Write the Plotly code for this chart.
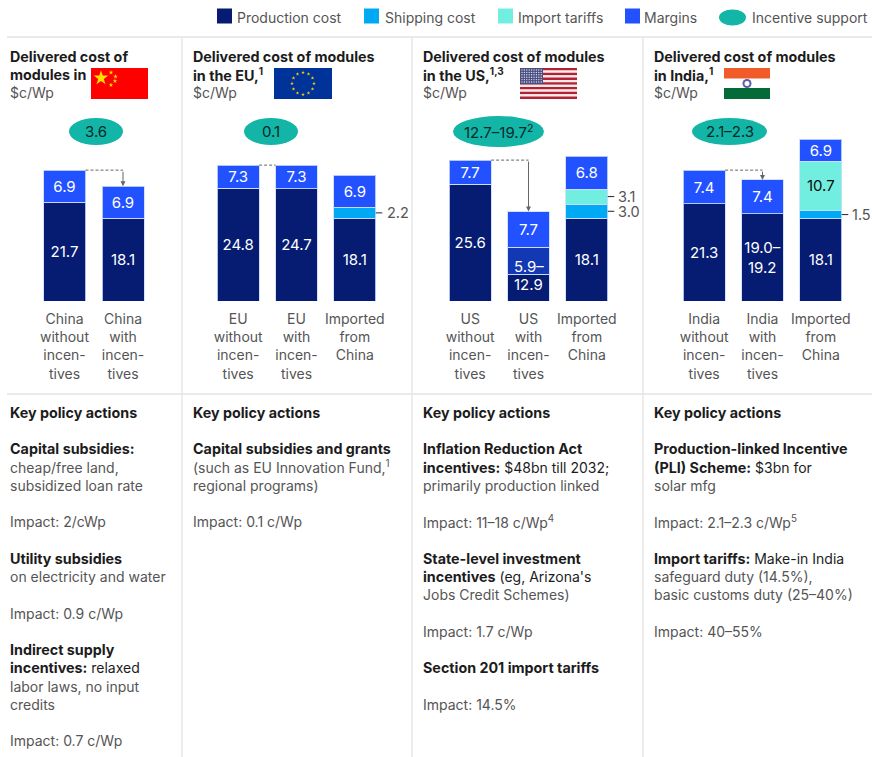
import plotly.graph_objects as go

# ---------- data ----------
china_cats = ["China<br>without<br>incen-<br>tives", "China<br>with<br>incen-<br>tives"]
eu_cats = ["EU<br>without<br>incen-<br>tives", "EU<br>with<br>incen-<br>tives", "Imported<br>from<br>China"]
us_cats = ["US<br>without<br>incen-<br>tives", "US<br>with<br>incen-<br>tives", "Imported<br>from<br>China"]
india_cats = ["India<br>without<br>incen-<br>tives", "India<br>with<br>incen-<br>tives", "Imported<br>from<br>China"]

# heights as drawn in the picture (the source does not draw every segment to scale)
china_production = [21.7, 18.1]
china_margins = [7.0, 7.05]
eu_production = [24.7, 24.6, 18.1]
eu_shipping = [0, 0, 2.45]
eu_margins = [5.1, 5.2, 7.0]
us_production = [25.6, 5.85, 18.1]
us_range = [0, 5.95, 0]
us_shipping = [0, 0, 3.15]
us_tariffs = [0, 0, 3.3]
us_margins = [5.3, 7.8, 7.15]
india_production = [21.3, 19.1, 18.1]
india_shipping = [0, 0, 1.7]
india_tariffs = [0, 0, 10.9]
india_margins = [7.4, 7.45, 4.75]

# printed labels
china_production_lbl = ["21.7", "18.1"]
china_margins_lbl = ["6.9", "6.9"]
eu_production_lbl = ["24.8", "24.7", "18.1"]
eu_margins_lbl = ["7.3", "7.3", "6.9"]
us_production_lbl = ["25.6", None, "18.1"]
us_with_base_lbl = "12.9"
us_with_range_lbl = "5.9–"
us_margins_lbl = ["7.7", "7.7", "6.8"]
india_production_lbl = ["21.3", "19.0–<br>19.2", "18.1"]
india_tariffs_lbl = [None, None, "10.7"]
india_margins_lbl = ["7.4", "7.4", "6.9"]

incentive_labels = ["3.6", "0.1", "12.7–19.7<sup>2</sup>", "2.1–2.3"]

legend_labels = ["Production cost", "Shipping cost", "Import tariffs", "Margins", "Incentive support"]

titles = [
    ["<b>Delivered cost of</b>", "<b>modules in</b>", "$c/Wp"],
    ["<b>Delivered cost of modules</b>", "<b>in the EU,<sup>1</sup></b>", "$c/Wp"],
    ["<b>Delivered cost of modules</b>", "<b>in the US,<sup>1,3</sup></b>", "$c/Wp"],
    ["<b>Delivered cost of modules</b>", "<b>in India,<sup>1</sup></b>", "$c/Wp"],
]

policy_china = [
    "<b>Key policy actions</b>", "",
    "<b>Capital subsidies:</b>", "cheap/free land,", "subsidized loan rate", "",
    "Impact: 2/cWp", "",
    "<b>Utility subsidies</b>", "on electricity and water", "",
    "Impact: 0.9 c/Wp", "",
    "<b>Indirect supply</b>", "<b>incentives:</b> relaxed", "labor laws, no input", "credits", "",
    "Impact: 0.7 c/Wp",
]
policy_eu = [
    "<b>Key policy actions</b>", "",
    "<b>Capital subsidies and grants</b>", "(such as EU Innovation Fund,<sup>1</sup>", "regional programs)", "",
    "Impact: 0.1 c/Wp",
]
policy_us = [
    "<b>Key policy actions</b>", "",
    "<b>Inflation Reduction Act</b>", "<b>incentives:</b> $48bn till 2032;", "primarily production linked", "",
    "Impact: 11–18 c/Wp<sup>4</sup>", "",
    "<b>State-level investment</b>", "<b>incentives</b> (eg, Arizona's", "Jobs Credit Schemes)", "",
    "Impact: 1.7 c/Wp", "",
    "<b>Section 201 import tariffs</b>", "",
    "Impact: 14.5%",
]
policy_india = [
    "<b>Key policy actions</b>", "",
    "<b>Production-linked Incentive</b>", "<b>(PLI) Scheme:</b> $3bn for", "solar mfg", "",
    "Impact: 2.1–2.3 c/Wp<sup>5</sup>", "",
    "<b>Import tariffs:</b> Make-in India", "safeguard duty (14.5%),", "basic customs duty (25–40%)", "",
    "Impact: 40–55%",
]

# ---------- style ----------
W, H = 872, 757
FONT = "Inter"
NAVY, SKY, AQUA, BLUE, TEAL = "#051C72", "#00A9F4", "#72EEE0", "#2251FF", "#13B5A6"
GREY, DARK = "#555555", "#1C1C1C"
RULE = "#E3E3E3"
BASE_PX = 301
PX_PER_UNIT = 4.56
EDGE = dict(color="rgba(205,220,255,0.85)", width=1)

fig = go.Figure()


def seg(ax, cats, values, color, labels=None, tcolor="white", anchor="middle"):
    fig.add_trace(go.Bar(
        x=cats, y=values, xaxis=ax, yaxis="y", marker=dict(color=color, line=EDGE),
        text=labels, textposition="inside", insidetextanchor=anchor, textangle=0,
        constraintext="none", cliponaxis=False,
        textfont=dict(family=FONT, size=15, color=tcolor), hoverinfo="skip", showlegend=False,
    ))


seg("x", china_cats, china_production, NAVY, china_production_lbl)
seg("x", china_cats, china_margins, BLUE, china_margins_lbl)

seg("x2", eu_cats, eu_production, NAVY, eu_production_lbl)
seg("x2", eu_cats, eu_shipping, SKY)
seg("x2", eu_cats, eu_margins, BLUE, eu_margins_lbl)

seg("x3", us_cats, us_production, NAVY, us_production_lbl)
seg("x3", us_cats, us_range, "#1338B4")
seg("x3", us_cats, us_shipping, SKY)
seg("x3", us_cats, us_tariffs, AQUA)
seg("x3", us_cats, us_margins, BLUE, us_margins_lbl)

seg("x4", india_cats, india_production, NAVY, india_production_lbl)
seg("x4", india_cats, india_shipping, SKY)
seg("x4", india_cats, india_tariffs, AQUA, india_tariffs_lbl, tcolor="#0A0A0A")
seg("x4", india_cats, india_margins, BLUE, india_margins_lbl)

# flag stars are drawn on the full-page pixel axes
china_sx, china_sy = [111, 115.5, 115, 111], [72.5, 76.5, 81, 85]
fig.add_trace(go.Scatter(x=[101], y=[78], xaxis="x5", yaxis="y5", mode="markers", hoverinfo="skip", showlegend=False,
                         marker=dict(symbol="star", size=11, color="#FFDE00", line_width=0)))
fig.add_trace(go.Scatter(x=china_sx, y=china_sy, xaxis="x5", yaxis="y5", mode="markers", hoverinfo="skip", showlegend=False,
                         marker=dict(symbol="star", size=3.5, color="#FFDE00", line_width=0)))
eu_sx = [303, 308.5, 312.5, 314, 312.5, 308.5, 303, 297.5, 293.5, 292, 293.5, 297.5]
eu_sy = [72.5, 74, 78, 83.5, 89, 93, 94.5, 93, 89, 83.5, 78, 74]
fig.add_trace(go.Scatter(x=eu_sx, y=eu_sy, xaxis="x5", yaxis="y5", mode="markers", hoverinfo="skip", showlegend=False,
                         marker=dict(symbol="star", size=2.8, color="#FFCC00", line_width=0)))

annotations, shapes = [], []


def txt(x, y, s, size=14, color=GREY, xa="left", ya="middle"):
    s = s.replace("<b>", '<span style="font-size:14.3px"><b>').replace("</b>", "</b></span>")
    annotations.append(dict(x=x, y=y, xref="x5", yref="y5", text=s, showarrow=False, xanchor=xa, yanchor=ya,
                            borderpad=0, font=dict(family=FONT, size=size, color=color)))


def box(x0, y0, x1, y1, color, kind="rect", layer="below"):
    shapes.append(dict(type=kind, xref="x5", yref="y5", x0=x0, y0=y0, x1=x1, y1=y1,
                       fillcolor=color, line_width=0, layer=layer))


def rule(x0, y0, x1, y1):
    shapes.append(dict(type="line", xref="x5", yref="y5", x0=x0, y0=y0, x1=x1, y1=y1,
                       line=dict(color=RULE, width=1.3), layer="below"))


# legend
legend_x = [(217, 232), (364, 379), (498, 513), (625, 640)]
for (a, b), c in zip(legend_x, [NAVY, SKY, AQUA, BLUE]):
    box(a, 8.5, b, 23.5, c)
box(719, 9.5, 746, 25.5, TEAL, "circle")
for x, s in zip([236, 384, 517, 643, 751], legend_labels):
    txt(x, 17.5, s, size=14)

# rules
rule(7, 37, W, 37)
rule(7, 394, W, 394)
for x in (182, 412, 643):
    rule(x, 37, x, H)

# titles
for x, lines in zip([9, 192, 422, 653], titles):
    for y, s in zip([56.4, 74.4, 92.4], lines):
        txt(x, y, s, color=DARK if "<b>" in s else GREY)

# policy columns
for x, col in zip([9, 192, 422, 653], [policy_china, policy_eu, policy_us, policy_india]):
    for i, s in enumerate(col):
        if s:
            txt(x, 412.4 + i * 18.25, s, color=DARK if s.startswith("<b>") else GREY)

# incentive ellipses
ell = [(69, 118, 123, 145), (244, 118, 298, 145), (453, 116, 544, 147), (692, 118, 767, 145)]
for (a, b, c, d), s in zip(ell, incentive_labels):
    box(a, b, c, d, TEAL, "circle")
    txt((a + c) / 2, (b + d) / 2, s, size=15, color="#062A2A", xa="center")


def tot(*series):
    return lambda i: sum(s[i] for s in series)


HALF = 0.359
conn = "#666666"


def connector(ax, y0_total, y1_total, arrow=True, dash_end=1):
    shapes.append(dict(type="line", xref=ax, yref="y", x0=HALF, x1=dash_end, y0=y0_total, y1=y0_total,
                       line=dict(color=conn, width=1, dash="3px,2px"), layer="above"))
    if arrow:
        annotations.append(dict(x=1, y=y1_total, xref=ax, yref="y", axref=ax, ayref="y", ax=1, ay=y0_total,
                                text="", showarrow=True, arrowhead=2, arrowsize=1, arrowwidth=1, arrowcolor=conn,
                                standoff=0, startstandoff=0))


t = tot(china_production, china_margins)
connector("x", t(0), t(1))
t = tot(eu_production, eu_margins)
connector("x2", t(0), t(1), arrow=False, dash_end=1 - HALF)
t = tot(us_production, us_range, us_margins)
connector("x3", t(0), t(1))
t = tot(india_production, india_margins)
connector("x4", t(0), t(1))


# the two labels of the split US bar sit close to their shared boundary
def bar_label(ax, i, y, s):
    annotations.append(dict(x=i, y=y, xref=ax, yref="y", text=s, showarrow=False, xanchor="center",
                            yanchor="middle", borderpad=0, font=dict(family=FONT, size=15, color="white")))


bar_label("x3", 1, us_production[1] * 0.6, us_with_base_lbl)
bar_label("x3", 1, us_production[1] + us_range[1] * 0.28, us_with_range_lbl)


# small side labels for thin segments (text x on the page axis, text y on the value axis)
def side(ax, label, bottom, height, tick_end, text_x):
    mid = bottom + height / 2
    shapes.append(dict(type="line", xref=ax, yref="y", x0=2 + HALF, x1=2 + tick_end, y0=mid, y1=mid,
                       line=dict(color="#222222", width=1), layer="above"))
    annotations.append(dict(x=text_x, y=mid, xref="x5", yref="y", text=label, showarrow=False, xanchor="left",
                            yanchor="middle", borderpad=0, font=dict(family=FONT, size=14.5, color=GREY)))


side("x2", "2.2", eu_production[2], eu_shipping[2], 0.47, 386)
side("x3", "3.0", us_production[2], us_shipping[2], 0.47, 617)
side("x3", "3.1", us_production[2] + us_shipping[2], us_tariffs[2], 0.47, 617)
side("x4", "1.5", india_production[2], india_shipping[2], 0.47, 851)

# flags
box(91, 68, 148, 99, "#FF0000")
box(274, 68, 332, 99, "#003399")
for i in range(13):
    y0 = 68 + i * 31 / 13
    box(520, y0, 577, y0 + 31 / 13, "#B22234" if i % 2 == 0 else "#F6E9EA")
box(520, 68, 543, 84, "#4A4F82", layer="below")
usx = [522 + 2.4 * i for i in range(9)]
usy = [70 + 2.4 * j for j in range(6)]
fig.add_trace(go.Scatter(x=[a for a in usx for _ in usy], y=[b for _ in usx for b in usy],
                         xaxis="x5", yaxis="y5", mode="markers", hoverinfo="skip", showlegend=False,
                         marker=dict(symbol="circle", size=1.4, color="#D9DAE8", line_width=0)))
box(724, 68, 770, 78.5, "#F15A29")
box(724, 88, 770, 99, "#046A38")
box(742.5, 79, 751.5, 88, "#5A5FA8", "circle")
box(744.5, 81, 749.5, 86, "#FFFFFF", "circle")


def dom(a, b):
    return [a / W, b / W]


def xax(cats, a, b):
    return dict(domain=dom(a, b), anchor="y", type="category", categoryorder="array", categoryarray=cats,
                range=[-0.5, len(cats) - 0.5], showgrid=False, zeroline=False, showline=False, ticks="",
                tickangle=0, ticklabelstandoff=8, tickfont=dict(family=FONT, size=14, color=GREY), fixedrange=True)


fig.update_layout(
    width=W, height=H, margin=dict(l=0, r=0, t=0, b=0), autosize=False,
    paper_bgcolor="white", plot_bgcolor="rgba(0,0,0,0)", barmode="stack", bargap=0.282, showlegend=False,
    xaxis=xax(china_cats, 35.25, 152.25),
    xaxis2=xax(eu_cats, 209, 384),
    xaxis3=xax(us_cats, 441, 616),
    xaxis4=xax(india_cats, 675, 850),
    yaxis=dict(domain=[(H - BASE_PX) / H, 1], range=[0, BASE_PX / PX_PER_UNIT], visible=False, fixedrange=True),
    xaxis5=dict(domain=[0, 1], range=[0, W], visible=False, anchor="y5", fixedrange=True),
    yaxis5=dict(domain=[0, 1], range=[H, 0], visible=False, anchor="x5", fixedrange=True),
    shapes=shapes, annotations=annotations, font=dict(family=FONT),
)

fig.write_html("out.html", config={"displayModeBar": False},
               post_script="document.body.style.margin='0';document.documentElement.style.overflow='hidden';")
